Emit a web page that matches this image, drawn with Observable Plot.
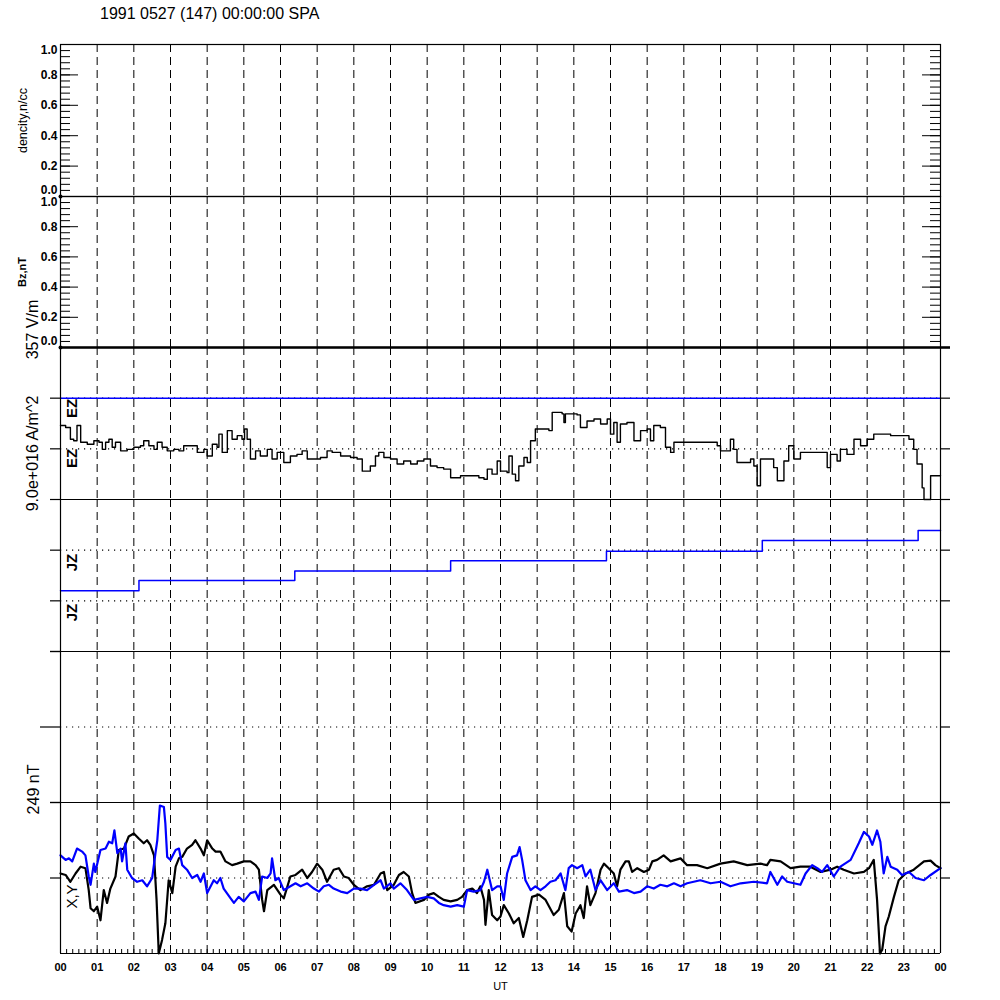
<!DOCTYPE html>
<html><head><meta charset="utf-8">
<script src="https://cdn.jsdelivr.net/npm/d3@7"></script>
<script src="https://cdn.jsdelivr.net/npm/@observablehq/plot@0.6"></script>
<style>
body{margin:0;background:#fff;font-family:"Liberation Sans",Arial,sans-serif;}
#wrap{position:relative;width:1000px;height:1000px;overflow:hidden;}
#title{position:absolute;left:100px;top:5px;font-size:16px;color:#000;}
svg.p{position:absolute;left:0;overflow:visible;background:transparent;}
</style></head><body>
<div id="wrap"><div id="title">1991 0527 (147) 00:00:00 SPA</div></div>
<script>
// ---------------- data ----------------
const title = "1991 0527 (147) 00:00:00 SPA";
const hourLines = [1,2,3,4,5,6,7,8,9,10,11,12,13,14,15,16,17,18,19,20,21,22,23];
const hourTicks = [0,1,2,3,4,5,6,7,8,9,10,11,12,13,14,15,16,17,18,19,20,21,22,23,24];
const hourLabels = ["00","01","02","03","04","05","06","07","08","09","10","11","12","13","14","15","16","17","18","19","20","21","22","23","00"];
const unitTicks = [0,0.2,0.4,0.6,0.8,1.0];
const unitLabels = ["0.0","0.2","0.4","0.6","0.8","1.0"];

// EZ (normalized, panel reference lines at +1 / 0 / -1)
const ezData = [[0.00,0.46],[0.14,0.42],[0.27,0.19],[0.36,0.16],[0.45,0.46],[0.55,0.13],[0.73,0.09],[0.91,0.16],[1.05,0.13],[1.14,-0.01],[1.23,0.13],[1.32,0.19],[1.41,0.03],[1.50,0.13],[1.64,-0.04],[1.82,-0.01],[2.00,0.03],[2.18,0.06],[2.27,0.16],[2.41,0.06],[2.55,-0.01],[2.64,0.13],[2.77,0.03],[2.91,-0.04],[3.09,-0.01],[3.23,-0.04],[3.36,0.06],[3.55,0.06],[3.73,-0.07],[3.91,-0.01],[4.00,-0.14],[4.14,0.09],[4.27,0.03],[4.32,0.29],[4.41,-0.07],[4.55,0.36],[4.68,0.19],[4.82,0.26],[4.95,0.19],[5.02,0.39],[5.09,0.19],[5.18,-0.20],[5.32,-0.04],[5.45,-0.14],[5.64,-0.01],[5.77,-0.20],[5.91,-0.07],[6.09,-0.27],[6.27,-0.14],[6.45,-0.11],[6.59,-0.04],[6.73,-0.20],[6.91,-0.20],[7.09,-0.17],[7.27,-0.04],[7.41,-0.07],[7.64,-0.14],[7.91,-0.17],[8.09,-0.20],[8.23,-0.44],[8.45,-0.34],[8.59,-0.14],[8.68,-0.07],[8.82,-0.17],[9.00,-0.20],[9.18,-0.30],[9.36,-0.24],[9.55,-0.30],[9.73,-0.24],[9.91,-0.20],[10.09,-0.34],[10.27,-0.37],[10.45,-0.40],[10.64,-0.57],[10.91,-0.53],[11.18,-0.53],[11.41,-0.57],[11.55,-0.60],[11.64,-0.40],[11.77,-0.50],[11.91,-0.24],[12.00,-0.44],[12.18,-0.47],[12.23,-0.14],[12.32,-0.50],[12.41,-0.63],[12.50,-0.34],[12.64,-0.17],[12.73,-0.27],[12.82,0.16],[12.95,0.39],[13.32,0.36],[13.41,0.72],[13.68,0.69],[13.73,0.52],[13.77,0.69],[14.09,0.67],[14.18,0.42],[14.36,0.55],[14.55,0.59],[14.73,0.49],[14.91,0.59],[15.00,0.29],[15.09,0.52],[15.18,0.13],[15.27,0.49],[15.45,0.52],[15.64,0.16],[15.82,0.36],[16.00,0.39],[16.09,0.16],[16.18,0.46],[16.36,0.42],[16.50,0.03],[16.64,-0.07],[16.73,0.13],[17.00,0.13],[17.91,0.06],[18.00,-0.04],[18.27,0.19],[18.36,-0.01],[18.45,-0.27],[18.64,-0.27],[18.82,-0.20],[18.91,-0.34],[19.00,-0.73],[19.09,-0.20],[19.36,-0.20],[19.45,-0.37],[19.55,-0.63],[19.64,-0.63],[19.73,-0.24],[19.86,0.06],[20.00,-0.20],[20.18,-0.07],[20.50,-0.07],[20.82,-0.07],[20.91,-0.37],[21.00,-0.11],[21.18,-0.24],[21.27,-0.01],[21.45,-0.11],[21.64,0.19],[21.82,0.06],[22.00,0.19],[22.18,0.29],[22.64,0.26],[23.00,0.26],[23.14,0.19],[23.27,-0.01],[23.36,-0.30],[23.50,-0.77],[23.55,-1.00],[23.64,-1.00],[23.73,-0.53],[24.00,-0.53]];

// JZ (normalized step series)
const jzData = [[0,-0.80],[2.14,-0.60],[6.39,-0.41],[10.64,-0.21],[14.89,-0.02],[19.14,0.19],[23.39,0.39],[24,0.39]];

// X component (black), normalized to half-range of 249 nT panel
const xData = [[0.00,0.06],[0.14,0.04],[0.27,-0.05],[0.41,0.06],[0.55,0.15],[0.68,0.13],[0.77,-0.16],[0.82,-0.40],[0.91,-0.44],[1.00,-0.38],[1.09,-0.56],[1.18,-0.16],[1.27,-0.33],[1.36,-0.14],[1.50,0.02],[1.59,0.37],[1.73,0.39],[1.86,0.55],[2.00,0.59],[2.14,0.52],[2.27,0.46],[2.36,0.50],[2.45,0.44],[2.55,0.30],[2.62,-0.29],[2.68,-1.00],[2.77,-0.82],[2.86,-0.60],[2.95,-0.03],[3.05,-0.20],[3.14,0.15],[3.23,0.26],[3.32,0.28],[3.45,0.39],[3.59,0.44],[3.68,0.50],[3.82,0.39],[3.91,0.30],[4.00,0.50],[4.14,0.39],[4.23,0.35],[4.36,0.35],[4.50,0.22],[4.68,0.17],[4.82,0.19],[5.00,0.22],[5.18,0.22],[5.32,0.17],[5.41,0.11],[5.50,-0.29],[5.55,-0.44],[5.64,-0.16],[5.82,-0.09],[6.00,-0.22],[6.09,-0.27],[6.27,0.02],[6.41,0.04],[6.59,0.11],[6.73,0.00],[6.86,0.08],[7.00,0.19],[7.14,0.11],[7.27,-0.05],[7.45,0.11],[7.59,0.13],[7.73,0.02],[7.86,0.00],[8.00,-0.09],[8.18,-0.16],[8.36,-0.11],[8.55,-0.09],[8.73,0.06],[8.82,0.08],[8.91,-0.16],[9.09,-0.09],[9.23,0.04],[9.36,0.08],[9.50,0.02],[9.59,-0.20],[9.68,-0.33],[9.91,-0.29],[10.05,-0.22],[10.18,-0.20],[10.32,-0.25],[10.45,-0.29],[10.64,-0.31],[10.82,-0.29],[10.95,-0.25],[11.09,-0.16],[11.23,-0.14],[11.36,-0.20],[11.45,-0.11],[11.55,-0.29],[11.59,-0.62],[11.68,-0.16],[11.77,-0.49],[11.91,-0.56],[12.00,-0.51],[12.09,-0.36],[12.23,-0.47],[12.36,-0.60],[12.50,-0.53],[12.62,-0.78],[12.73,-0.56],[12.86,-0.25],[13.05,-0.22],[13.23,-0.29],[13.45,-0.49],[13.59,-0.42],[13.73,-0.20],[13.82,-0.64],[13.94,-0.71],[14.05,-0.47],[14.18,-0.36],[14.27,-0.53],[14.36,-0.11],[14.45,-0.36],[14.59,-0.20],[14.73,0.11],[14.82,0.19],[14.95,0.13],[15.09,0.06],[15.18,-0.11],[15.27,0.11],[15.41,0.22],[15.50,0.22],[15.59,0.08],[15.73,0.13],[15.91,0.08],[16.05,0.11],[16.14,0.22],[16.27,0.24],[16.45,0.30],[16.64,0.22],[16.91,0.26],[17.09,0.17],[17.36,0.17],[17.64,0.13],[18.00,0.19],[18.36,0.22],[18.73,0.17],[19.09,0.19],[19.27,0.17],[19.36,0.24],[19.64,0.22],[19.91,0.13],[20.18,0.15],[20.45,0.15],[20.73,0.08],[21.00,0.11],[21.18,0.15],[21.36,0.11],[21.64,0.06],[21.91,0.08],[22.05,0.13],[22.18,0.24],[22.27,-0.29],[22.35,-1.00],[22.41,-0.95],[22.50,-0.64],[22.59,-0.51],[22.73,-0.25],[22.86,-0.03],[23.05,0.06],[23.27,0.11],[23.55,0.22],[23.73,0.23],[23.86,0.17],[24.00,0.13]];

// Y component (blue)
const yData = [[0.00,0.30],[0.14,0.24],[0.23,0.26],[0.32,0.22],[0.45,0.39],[0.59,0.35],[0.68,0.30],[0.77,0.02],[0.82,-0.09],[0.91,0.19],[0.95,0.08],[1.09,0.37],[1.23,0.39],[1.32,0.48],[1.41,0.46],[1.47,0.63],[1.55,0.33],[1.64,0.39],[1.68,0.22],[1.77,0.46],[1.82,0.11],[1.95,0.00],[2.09,-0.05],[2.23,-0.03],[2.36,-0.11],[2.50,0.00],[2.59,0.33],[2.64,0.50],[2.71,0.96],[2.82,0.94],[2.86,0.72],[2.91,0.28],[3.00,0.24],[3.14,0.37],[3.23,0.39],[3.32,0.17],[3.45,0.11],[3.59,0.00],[3.73,0.04],[3.82,-0.05],[3.91,0.06],[4.00,-0.20],[4.18,-0.03],[4.27,-0.07],[4.36,0.00],[4.45,-0.14],[4.64,-0.27],[4.73,-0.33],[4.86,-0.25],[5.00,-0.31],[5.18,-0.20],[5.32,-0.18],[5.41,-0.29],[5.50,0.02],[5.64,0.00],[5.73,0.06],[5.77,0.26],[5.86,-0.03],[5.95,0.00],[6.09,-0.16],[6.27,-0.11],[6.41,-0.07],[6.55,-0.11],[6.73,-0.07],[6.91,-0.14],[7.05,-0.18],[7.18,-0.11],[7.32,-0.09],[7.45,-0.14],[7.64,-0.18],[7.82,-0.20],[8.00,-0.14],[8.18,-0.14],[8.36,-0.16],[8.55,-0.09],[8.73,-0.03],[8.82,-0.14],[9.00,-0.07],[9.09,-0.14],[9.27,-0.07],[9.45,-0.16],[9.64,-0.29],[9.82,-0.27],[10.00,-0.25],[10.18,-0.27],[10.32,-0.33],[10.45,-0.36],[10.64,-0.38],[10.82,-0.36],[11.00,-0.38],[11.09,-0.16],[11.27,-0.18],[11.45,-0.16],[11.55,-0.05],[11.64,0.11],[11.77,-0.16],[11.91,-0.11],[12.00,-0.11],[12.09,-0.29],[12.18,0.06],[12.32,0.28],[12.45,0.30],[12.52,0.41],[12.59,0.24],[12.68,-0.03],[12.82,-0.16],[12.95,-0.11],[13.09,-0.16],[13.23,-0.11],[13.36,-0.05],[13.50,-0.03],[13.64,0.06],[13.77,-0.16],[13.86,0.13],[13.95,0.17],[14.09,0.13],[14.23,0.17],[14.32,0.02],[14.45,0.11],[14.59,-0.16],[14.73,-0.03],[14.91,-0.16],[15.09,-0.07],[15.23,-0.18],[15.45,-0.16],[15.64,-0.20],[15.82,-0.18],[16.00,-0.11],[16.18,-0.14],[16.36,-0.09],[16.55,-0.11],[16.73,-0.07],[16.91,-0.11],[17.09,-0.07],[17.45,-0.03],[17.73,-0.07],[18.00,-0.05],[18.27,-0.11],[18.55,-0.07],[18.91,-0.05],[19.27,-0.07],[19.36,0.08],[19.55,-0.09],[19.68,0.02],[19.82,-0.05],[20.00,-0.07],[20.18,-0.09],[20.32,0.06],[20.50,0.17],[20.64,0.13],[20.77,0.08],[20.91,0.17],[21.09,0.02],[21.27,0.15],[21.55,0.24],[21.77,0.46],[21.91,0.61],[22.05,0.55],[22.14,0.44],[22.27,0.63],[22.36,0.48],[22.45,0.06],[22.55,0.28],[22.64,0.15],[22.82,0.11],[22.95,0.04],[23.14,0.08],[23.32,0.00],[23.55,-0.03],[23.73,0.04],[24.00,0.13]];

// ---------------- drawing ----------------
const wrap = document.getElementById("wrap");
const FONT = "Liberation Sans, Arial, Helvetica, sans-serif";
const PW = 880;
const minorUnit = d3.range(0, 1.0001, 0.04);
const minorTime = d3.range(0, 24.0001, 1/6);
const toObj = a => a.map(([h, v]) => ({h, v}));

function panel(top, height, domain, marks) {
  const svg = Plot.plot({
    width: 1000, height,
    marginLeft: 60, marginRight: 60, marginTop: 0, marginBottom: 0,
    x: {domain: [0, 24], axis: null},
    y: {domain, axis: null},
    style: {fontFamily: FONT, background: "transparent", overflow: "visible", color: "#000"},
    marks
  });
  svg.classList.add("p");
  svg.style.top = top + "px";
  wrap.appendChild(svg);
}
const dashed = () => Plot.ruleX(hourLines, {stroke: "#000", strokeWidth: 1, strokeDasharray: "8,5"});
const dotted = (vals) => Plot.ruleY(vals, {stroke: "#000", strokeWidth: 1.2, strokeDasharray: "1.2,4.8"});
const solid = (vals, w = 1.2) => Plot.ruleY(vals, {stroke: "#000", strokeWidth: w});
const leftTicks = (vals, len = 10) => Plot.ruleY(vals, {stroke: "#000", strokeWidth: 1.2, insetLeft: -len, insetRight: PW});
const rightTicks = (vals, len = 10) => Plot.ruleY(vals, {stroke: "#000", strokeWidth: 1.2, insetLeft: PW, insetRight: -len});
const vText = (s, o) => Plot.text([s], {rotate: -90, fill: "#000", fontFamily: FONT, textAnchor: "middle", lineAnchor: "middle", ...o});

function unitPanel(top, height, label, labelSize, labelBold) {
  panel(top, height, [0, 1], [
    dashed(),
    Plot.ruleY(unitTicks, {stroke: "#000", strokeWidth: 1, insetRight: PW - 18}),
    Plot.ruleY(minorUnit, {stroke: "#000", strokeWidth: 1, insetRight: PW - 10}),
    Plot.ruleY(unitTicks, {stroke: "#000", strokeWidth: 1, insetLeft: PW - 18}),
    Plot.ruleY(minorUnit, {stroke: "#000", strokeWidth: 1, insetLeft: PW - 10}),
    Plot.text(unitTicks.slice(1, 5), {y: d => d, text: (d, i) => unitLabels[i + 1], frameAnchor: "left", dx: -3,
      textAnchor: "end", fontSize: 12, fontWeight: "bold", fontFamily: FONT, fill: "#000"}),
    Plot.text([unitTicks[5]], {y: d => d, text: () => unitLabels[5], frameAnchor: "left", dx: -3, dy: 6,
      textAnchor: "end", fontSize: 12, fontWeight: "bold", fontFamily: FONT, fill: "#000"}),
    Plot.text([unitTicks[0]], {y: d => d, text: () => unitLabels[0], frameAnchor: "left", dx: -3, dy: -6,
      textAnchor: "end", fontSize: 12, fontWeight: "bold", fontFamily: FONT, fill: "#000"}),
    vText(label, {frameAnchor: "left", dx: -38, fontSize: labelSize, fontWeight: labelBold ? "bold" : "normal"}),
    Plot.dot([{h: 0, v: 0}], {x: "h", y: "v", r: 2, fill: "#000", stroke: null}),
    Plot.frame({stroke: "#000", strokeWidth: 1.2})
  ]);
}

// P1 density, P2 Bz
unitPanel(44, 152, "dencity,n/cc", 12.5, false);
unitPanel(196, 151, "Bz,nT", 11, true);
// thick zero line at bottom of Bz panel
panel(196, 151, [0, 1], [
  Plot.ruleY([0], {stroke: "#000", strokeWidth: 2.6, insetRight: -10})
]);

// P3 EZ  (347-499)
panel(347, 152, [-1, 2], [
  dashed(),
  dotted([0, 1]),
  Plot.ruleY([1], {stroke: "#0000ff", strokeWidth: 1.5}),
  solid([-1]),
  leftTicks([1, 0, -1]),
  rightTicks([2, 1, 0, -1]),
  Plot.line(toObj(ezData), {x: "h", y: "v", stroke: "#000", strokeWidth: 1.4, curve: "step-after"}),
  vText("357 V/m", {frameAnchor: "top-left", dx: -28, dy: -18, fontSize: 16}),
  vText("9.0e+016 A/m^2", {frameAnchor: "top-left", dx: -28, dy: 106, fontSize: 16}),
  vText("EZ", {frameAnchor: "top-left", dx: 12, dy: 61, fontSize: 15, fontWeight: "bold"}),
  vText("EZ", {frameAnchor: "top-left", dx: 12, dy: 111, fontSize: 15, fontWeight: "bold"}),
  Plot.ruleX([0, 24], {stroke: "#000", strokeWidth: 1.2})
]);

// P4 JZ (499-651)
panel(499, 152, [-2, 1], [
  dashed(),
  dotted([0, -1]),
  solid([-2, 1]),
  leftTicks([0, -1, -2]),
  rightTicks([0, -1, -2]),
  Plot.line(toObj(jzData), {x: "h", y: "v", stroke: "#0000ff", strokeWidth: 1.5, curve: "step-after"}),
  vText("JZ", {frameAnchor: "top-left", dx: 12, dy: 63, fontSize: 15, fontWeight: "bold"}),
  vText("JZ", {frameAnchor: "top-left", dx: 12, dy: 113, fontSize: 15, fontWeight: "bold"}),
  Plot.ruleX([0, 24], {stroke: "#000", strokeWidth: 1.2})
]);

// P5 empty (651-802)
panel(651, 151, [-1, 1], [
  dashed(),
  dotted([0]),
  solid([-1, 1]),
  leftTicks([0], 20),
  leftTicks([1, -1]),
  rightTicks([1, 0, -1]),
  Plot.ruleX([0, 24], {stroke: "#000", strokeWidth: 1.2})
]);

// P6 X,Y (802-953)
panel(802, 151, [-1, 1], [
  dashed(),
  dotted([0]),
  solid([-1, 1]),
  leftTicks([1, 0]),
  rightTicks([1, 0]),
  Plot.ruleX(minorTime, {stroke: "#000", strokeWidth: 1, insetTop: 147}),
  Plot.line(toObj(xData), {x: "h", y: "v", stroke: "#000", strokeWidth: 2.2}),
  Plot.line(toObj(yData), {x: "h", y: "v", stroke: "#0000ff", strokeWidth: 2.2}),
  vText("249 nT", {frameAnchor: "top-left", dx: -27, dy: -13, fontSize: 16}),
  vText("X,Y", {frameAnchor: "top-left", dx: 12, dy: 94, fontSize: 15}),
  Plot.text(hourTicks, {x: d => d, text: (d, i) => hourLabels[i], frameAnchor: "bottom", dy: 17,
    fontSize: 11, fontWeight: "bold", fontFamily: FONT, fill: "#000"}),
  Plot.text(["UT"], {frameAnchor: "bottom", dy: 36, fontSize: 11, fontFamily: FONT, fill: "#000"}),
  Plot.ruleX([0, 24], {stroke: "#000", strokeWidth: 1.2})
]);
</script></body></html>
